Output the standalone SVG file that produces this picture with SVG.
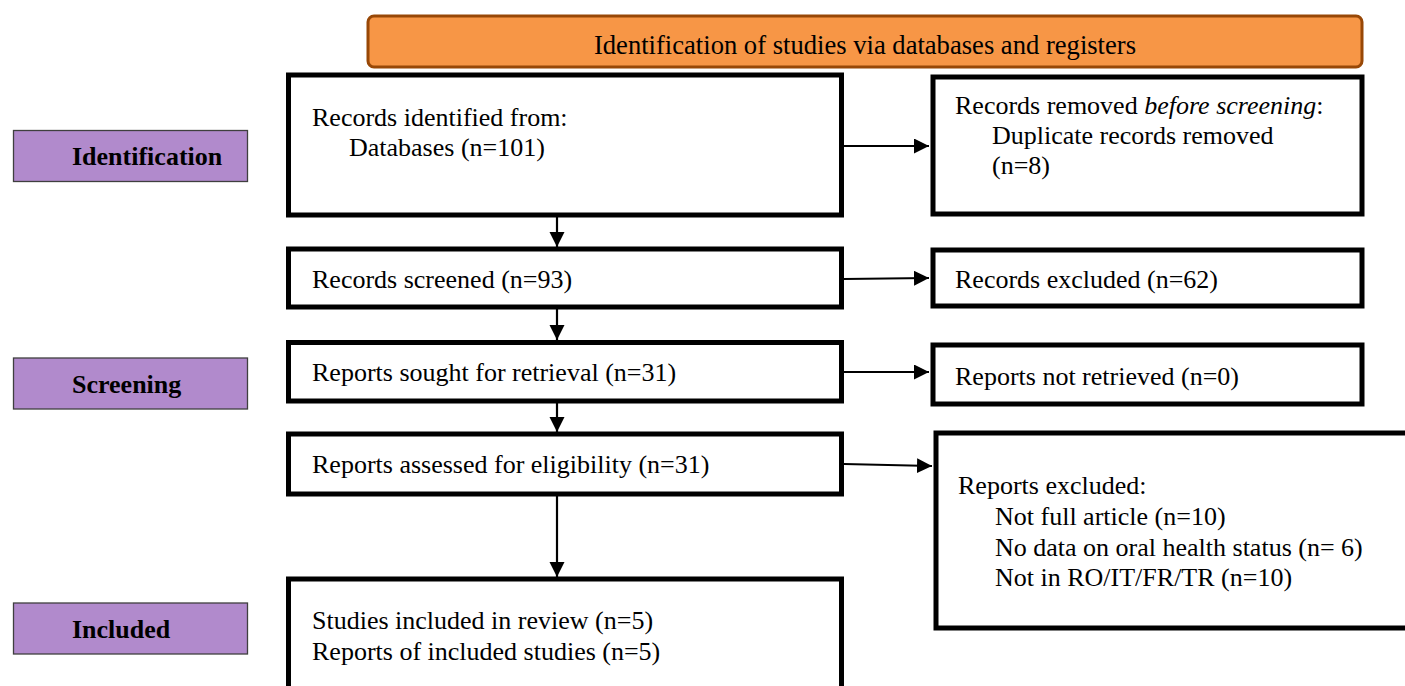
<svg xmlns="http://www.w3.org/2000/svg" width="1405" height="686" viewBox="0 0 1405 686">
<defs>
<style>
.box{fill:#fff;stroke:#000;stroke-width:5}
.lab{fill:#B18ACC;stroke:#3f3f3f;stroke-width:1.3}
.t{font-family:"Liberation Serif","Times New Roman",serif;font-size:26px;fill:#000}
.bt{font-family:"Liberation Serif","Times New Roman",serif;font-size:26.6px;fill:#000}
.lt{font-family:"Liberation Serif","Times New Roman",serif;font-size:26px;font-weight:bold;fill:#000}
.c{stroke:#000;stroke-width:2.2;fill:none;marker-end:url(#ah)}
</style>
<marker id="ah" markerUnits="userSpaceOnUse" markerWidth="16" markerHeight="16" refX="15" refY="7.5" orient="auto">
<path d="M0,0 L15,7.5 L0,15 Z" fill="#000"/>
</marker>
</defs>
<rect width="1405" height="686" fill="#fff"/>
<g id="banner">
<rect x="368" y="16" width="994" height="51" rx="6" fill="#F79646" stroke="#984807" stroke-width="3"/>
<text class="bt" x="865" y="54" text-anchor="middle">Identification of studies via databases and registers</text>
</g>
<g id="label-identification">
<rect class="lab" x="13.5" y="130.5" width="234" height="51"/>
<text class="lt" x="72" y="165">Identification</text>
</g>
<g id="label-screening">
<rect class="lab" x="13.5" y="358" width="234" height="51"/>
<text class="lt" x="72" y="393">Screening</text>
</g>
<g id="label-included">
<rect class="lab" x="13.5" y="603" width="234" height="51"/>
<text class="lt" x="72" y="638">Included</text>
</g>
<g id="records-identified">
<rect class="box" x="288.5" y="75" width="553" height="140"/>
<text class="t" x="312" y="126">Records identified from:</text>
<text class="t" x="349" y="156">Databases (n=101)</text>
</g>
<g id="records-removed">
<rect class="box" x="933" y="77" width="429" height="137"/>
<text class="t" x="955" y="114">Records removed <tspan font-style="italic">before screening</tspan>:</text>
<text class="t" x="992" y="144">Duplicate records removed</text>
<text class="t" x="992" y="174">(n=8)</text>
</g>
<g id="records-screened">
<rect class="box" x="288.5" y="249" width="553" height="58"/>
<text class="t" x="312" y="288">Records screened (n=93)</text>
</g>
<g id="records-excluded">
<rect class="box" x="933" y="250" width="429" height="56"/>
<text class="t" x="955" y="288">Records excluded (n=62)</text>
</g>
<g id="reports-sought">
<rect class="box" x="288.5" y="342.5" width="553" height="58.5"/>
<text class="t" x="312" y="381">Reports sought for retrieval (n=31)</text>
</g>
<g id="reports-not-retrieved">
<rect class="box" x="933" y="345" width="429" height="59"/>
<text class="t" x="955" y="385">Reports not retrieved (n=0)</text>
</g>
<g id="reports-assessed">
<rect class="box" x="288.5" y="434" width="553" height="60"/>
<text class="t" x="312" y="473">Reports assessed for eligibility (n=31)</text>
</g>
<g id="reports-excluded">
<rect class="box" x="936" y="433" width="500" height="195"/>
<text class="t" x="958" y="494">Reports excluded:</text>
<text class="t" x="995" y="525">Not full article (n=10)</text>
<text class="t" x="995" y="556">No data on oral health status (n= 6)</text>
<text class="t" x="995" y="586">Not in RO/IT/FR/TR (n=10)</text>
</g>
<g id="studies-included">
<rect class="box" x="288.5" y="579" width="553" height="130"/>
<text class="t" x="312" y="629">Studies included in review (n=5)</text>
<text class="t" x="312" y="660">Reports of included studies (n=5)</text>
</g>
<g id="connectors">
<line class="c" x1="557" y1="217" x2="557" y2="247"/>
<line class="c" x1="557" y1="309" x2="557" y2="340"/>
<line class="c" x1="557" y1="403" x2="557" y2="432"/>
<line class="c" x1="557" y1="496" x2="557" y2="577"/>
<line class="c" x1="844" y1="146" x2="929" y2="146"/>
<line class="c" x1="844" y1="279" x2="929" y2="278"/>
<line class="c" x1="844" y1="372" x2="929" y2="372"/>
<line class="c" x1="844" y1="464" x2="932" y2="466"/>
</g>
</svg>
